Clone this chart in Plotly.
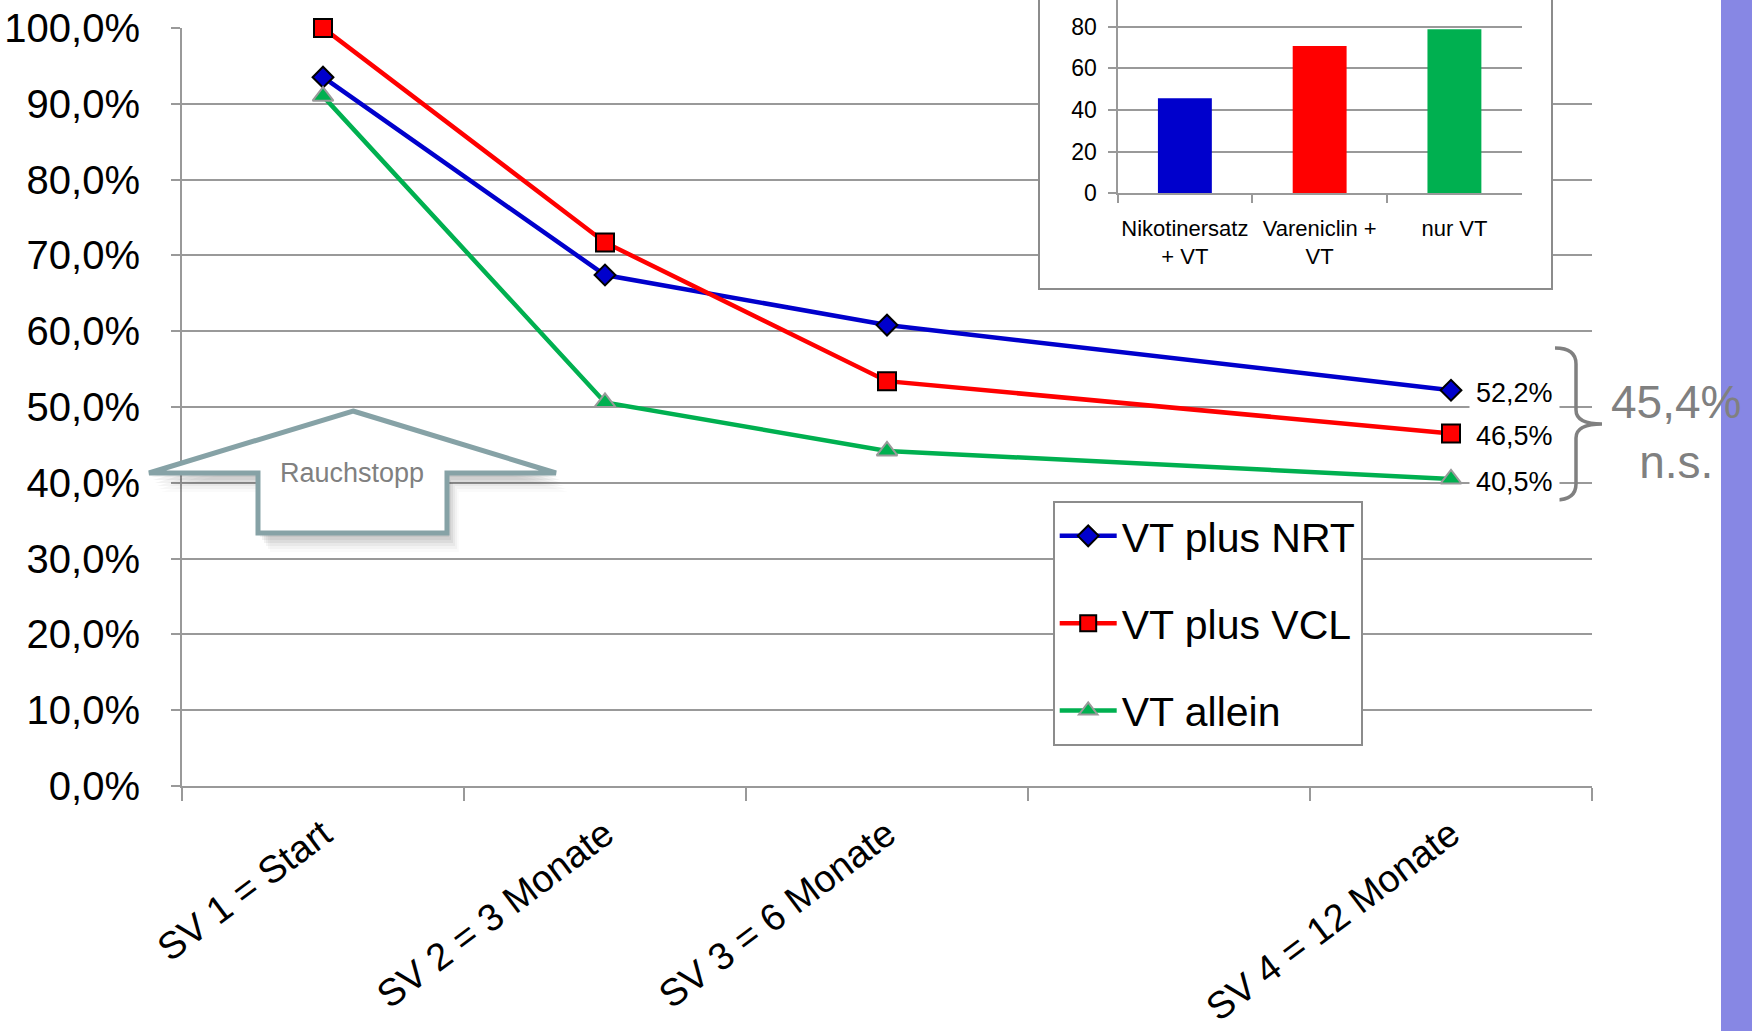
import plotly.graph_objects as go

# ---- data -------------------------------------------------------------
categories = ["SV 1 = Start", "SV 2 = 3 Monate", "SV 3 = 6 Monate", "SV 4 = 12 Monate"]
# the axis keeps an empty slot between SV 3 and SV 4
axis_categories = ["SV 1 = Start", "SV 2 = 3 Monate", "SV 3 = 6 Monate", " ", "SV 4 = 12 Monate"]

series_names = ["VT plus NRT", "VT plus VCL", "VT allein"]
vt_nrt = [93.5, 67.4, 60.8, 52.2]
vt_vcl = [100.0, 71.7, 53.4, 46.5]
vt_allein = [91.0, 50.6, 44.2, 40.5]

y_ticks = [0, 10, 20, 30, 40, 50, 60, 70, 80, 90, 100]
y_ticktext = [f"{v:.1f}".replace(".", ",") + "%" for v in y_ticks]

inset_labels = ["Nikotinersatz<br>+ VT", "Vareniclin +<br>VT", "nur VT"]
inset_values = [45.6, 70.7, 78.7]
inset_ticks = [0, 20, 40, 60, 80]

overall_text = "45,4%<br>n.s."
stop_text = "Rauchstopp"

# ---- styling ----------------------------------------------------------
BLUE, RED, GREEN = "#0000CC", "#FF0000", "#00B050"
GRID = "#999999"
FRAME = "#8C8C8C"
FONT = "Liberation Sans, Arial, sans-serif"

W, H = 1752, 1031
PLOT_L, PLOT_R, PAPER_H = 182, 1592, 786


def px(x, y):
    """pixel position -> paper coordinates"""
    return (x - PLOT_L) / (PLOT_R - PLOT_L), (PAPER_H - y) / PAPER_H


def path(points, close=True):
    s = ""
    for i, (x, y) in enumerate(points):
        u, v = px(x, y)
        s += ("M" if i == 0 else "L") + f"{u:.5f},{v:.5f} "
    return s + ("Z" if close else "")


fig = go.Figure()

# ---- main line chart --------------------------------------------------
styles = [
    (vt_nrt, BLUE, dict(symbol="diamond", size=16, color=BLUE, line=dict(color="black", width=2))),
    (vt_vcl, RED, dict(symbol="square", size=18, color=RED, line=dict(color="black", width=2))),
    (vt_allein, GREEN, dict(symbol="triangle-up", size=18, color=GREEN, line=dict(color="#9A9A9A", width=2))),
]
for name, (vals, col, mk) in zip(series_names, styles):
    fig.add_trace(go.Scatter(
        x=categories, y=vals, name=name, mode="lines+markers",
        line=dict(color=col, width=4.5), marker=mk, cliponaxis=False,
        legendgroup=name, xaxis="x", yaxis="y",
    ))

# ---- inset frame (own subplot so its white background hides the grid) -
fig.add_trace(go.Scatter(x=[0], y=[0], mode="markers", marker=dict(opacity=0),
                         hoverinfo="skip", showlegend=False, xaxis="x2", yaxis="y2"))

# ---- inset bar chart --------------------------------------------------
fig.add_trace(go.Bar(x=inset_labels, y=inset_values, marker=dict(color=[BLUE, RED, GREEN], line=dict(width=0)),
                     showlegend=False, xaxis="x3", yaxis="y3", hoverinfo="skip"))

# ---- shapes -----------------------------------------------------------
shapes = []
# purple band at the right edge
shapes.append(dict(type="rect", xref="paper", yref="paper",
                   x0=px(1721, 0)[0], x1=px(1770, 0)[0], y0=px(0, 1100)[1], y1=px(0, -20)[1],
                   fillcolor="#8787E4", line=dict(width=0), layer="below"))

# "Rauchstopp" block arrow with a soft drop shadow
arrow_pts = [(353, 411), (556, 473), (447, 473), (447, 533), (258, 533), (258, 473), (149, 473)]
for dx, dy, a in [(2, 4, 0.05), (4, 7, 0.05), (6, 10, 0.05), (8, 13, 0.04), (10, 16, 0.03), (12, 19, 0.02)]:
    shapes.append(dict(type="path", xref="paper", yref="paper",
                       path=path([(x + dx, y + dy) for x, y in arrow_pts]),
                       fillcolor=f"rgba(0,0,0,{a})", line=dict(width=0), layer="above"))
shapes.append(dict(type="path", xref="paper", yref="paper", path=path(arrow_pts),
                   fillcolor="white", line=dict(color="#86A2A6", width=5), layer="above"))

# curly bracket grouping the three end values
b = [px(*p) for p in [(1555, 348), (1576, 348), (1576, 364), (1576, 410), (1576, 424), (1602, 424),
                      (1576, 424), (1576, 438), (1576, 484), (1576, 500), (1555, 500)]]
brace = (f"M{b[0][0]},{b[0][1]} Q{b[1][0]},{b[1][1]} {b[2][0]},{b[2][1]} L{b[3][0]},{b[3][1]} "
         f"Q{b[4][0]},{b[4][1]} {b[5][0]},{b[5][1]} Q{b[6][0]},{b[6][1]} {b[7][0]},{b[7][1]} "
         f"L{b[8][0]},{b[8][1]} Q{b[9][0]},{b[9][1]} {b[10][0]},{b[10][1]}")
shapes.append(dict(type="path", xref="paper", yref="paper", path=brace,
                   line=dict(color="#808080", width=3.5), layer="above"))

# ---- annotations ------------------------------------------------------
annotations = []
for vals in (vt_nrt, vt_vcl, vt_allein):
    annotations.append(dict(
        x=categories[-1], y=vals[-1], xref="x", yref="y",
        text=f"{vals[-1]:.1f}".replace(".", ",") + "%",
        showarrow=False, xanchor="left", yanchor="middle", xshift=18, yshift=-3,
        bgcolor="white", borderpad=6, font=dict(family=FONT, size=27, color="black"),
    ))
ox, oy = px(1676, 432)
annotations.append(dict(x=ox, y=oy, xref="paper", yref="paper", text=overall_text, showarrow=False,
                        xanchor="center", yanchor="middle", align="center",
                        font=dict(family=FONT, size=46, color="#808080")))
sx, sy = px(352, 473)
annotations.append(dict(x=sx, y=sy, xref="paper", yref="paper", text=stop_text, showarrow=False,
                        xanchor="center", yanchor="middle",
                        font=dict(family=FONT, size=27, color="#808080")))

# ---- layout -----------------------------------------------------------
main_top = px(0, 27.9)[1]
frame_x0, frame_y0 = px(1040, 288.3)
frame_x1 = px(1551, 0)[0]
inset_x0, inset_y0 = px(1117.5, 193.3)
inset_x1 = px(1521.8, 0)[0]
leg_x, leg_y = px(1052.7, 500.7)

fig.update_layout(
    width=W, height=H,
    margin=dict(l=PLOT_L, r=W - PLOT_R, t=0, b=H - PAPER_H, autoexpand=False),
    paper_bgcolor="white", plot_bgcolor="white",
    font=dict(family=FONT, color="black"),
    bargap=0.6,
    xaxis=dict(
        type="category", categoryorder="array", categoryarray=axis_categories,
        range=[-0.5, 4.5], domain=[0, 1], anchor="y", automargin=False,
        tickson="boundaries", ticks="outside", ticklen=13, tickwidth=2, tickcolor=GRID,
        showline=True, linecolor=GRID, linewidth=2, showgrid=False, ticklabelstandoff=9,
        tickangle=-37, tickfont=dict(family=FONT, size=38, color="black"),
    ),
    yaxis=dict(
        range=[0, 100], domain=[0, main_top], anchor="x", automargin=False,
        tickvals=y_ticks, ticktext=y_ticktext,
        showgrid=True, gridcolor=GRID, gridwidth=2, zeroline=False,
        showline=True, linecolor=GRID, linewidth=2,
        ticks="outside", ticklen=9, tickwidth=2, tickcolor=GRID, ticklabelstandoff=23,
        tickfont=dict(family=FONT, size=40, color="black"),
    ),
    xaxis2=dict(domain=[frame_x0, frame_x1], anchor="y2", range=[0, 1], showline=True,
                linecolor=FRAME, linewidth=2, showgrid=False, zeroline=False, automargin=False,
                showticklabels=False, ticks="", fixedrange=True),
    yaxis2=dict(domain=[frame_y0, 1], anchor="x2", range=[0, 1], showline=True, mirror=True,
                linecolor=FRAME, linewidth=2, showgrid=False, zeroline=False, automargin=False,
                showticklabels=False, ticks="", fixedrange=True),
    xaxis3=dict(domain=[inset_x0, inset_x1], anchor="y3", type="category", automargin=False,
                tickson="boundaries", ticks="outside", ticklen=8, tickwidth=2, tickcolor=GRID,
                showline=True, linecolor=GRID, linewidth=2, showgrid=False, ticklabelstandoff=14,
                tickangle=0, tickfont=dict(family=FONT, size=22, color="black")),
    yaxis3=dict(domain=[inset_y0, 1], anchor="x3", range=[0, 92.8], tickvals=inset_ticks,
                automargin=False,
                showgrid=True, gridcolor=GRID, gridwidth=2, zeroline=False,
                showline=True, linecolor=GRID, linewidth=2,
                ticks="outside", ticklen=8, tickwidth=2, tickcolor=GRID, ticklabelstandoff=6,
                tickfont=dict(family=FONT, size=23, color="black")),
    legend=dict(
        x=leg_x, y=leg_y, xanchor="left", yanchor="top",
        bgcolor="white", bordercolor=FRAME, borderwidth=2,
        font=dict(family=FONT, size=41, color="black"),
        traceorder="grouped", tracegroupgap=31, itemwidth=57,
    ),
    shapes=shapes,
    annotations=annotations,
    showlegend=True,
)

fig.write_html("out.html")
